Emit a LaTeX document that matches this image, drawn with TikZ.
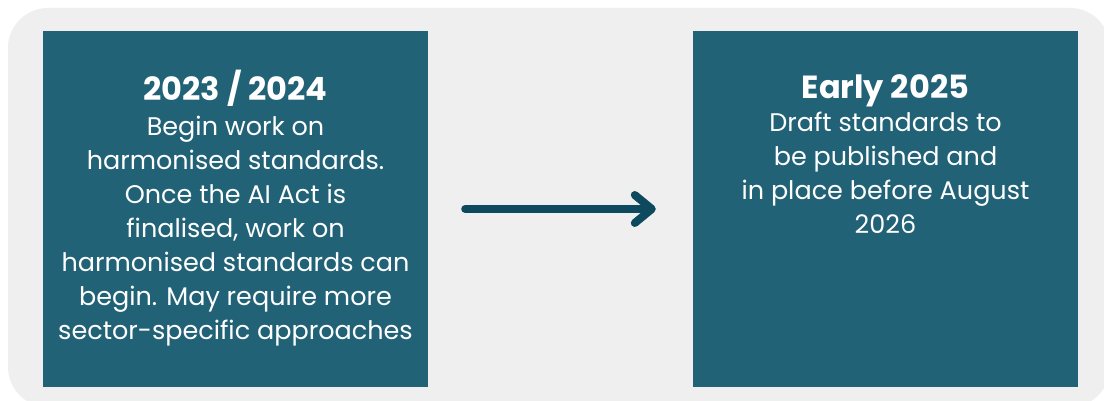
\documentclass[tikz,border=0pt]{standalone}
\usepackage{fontspec}
\setmainfont{Poppins}
\usepackage{tikz}
\usetikzlibrary{arrows.meta,positioning}
\definecolor{plannerbg}{HTML}{EFEFEF}
\definecolor{plannerbox}{HTML}{216276}
\definecolor{plannerarrow}{HTML}{0D4A5E}

\begin{document}
\begin{tikzpicture}[x=1pt, y=-1pt,
      stage/.style={fill=plannerbox, inner sep=0pt,
                    minimum width=385pt, minimum height=355pt},
      stagetxt/.style={text=white, align=center, inner sep=0pt,
                       font=\fontsize{25.5}{34}\selectfont},
      head/.style={text=white, inner sep=0pt, anchor=base,
                   font=\fontsize{32}{34}\selectfont\bfseries},
      arr/.style={-{Straight Barb[round, length=17pt, width=28pt]},
                  line width=8pt, line cap=round, color=plannerarrow,
                  shorten <=37pt, shorten >=37pt}
  ]
    \useasboundingbox (0,0) rectangle (1104,401);
    \fill[white] (0,0) rectangle (1104,401);
    \begin{scope}
      \clip (0,0) rectangle (1104,401);
      \fill[plannerbg, rounded corners=40pt] (8,8) rectangle (1110,407);
    \end{scope}
    \node[stage] (now)  at (235.5,209) {};
    \node[stage] (next) at (885.5,209) {};
    % titles on a common baseline
    \node[head] (nowhead)  at ([yshift=-69pt]now.north)  {2023 / 2024};
    \node[head] (nexthead) at ([yshift=-67pt]next.north) {Early 2025};
    \node[stagetxt, below=15.5pt of nowhead.base] (nowtxt)
      {Begin work on\\ harmonised standards.\\ Once the AI Act is\\
       finalised, work on\\ harmonised standards can\\
       begin. May require more\\ sector-specific approaches};
    \node[stagetxt, below=14pt of nexthead.base] (nexttxt)
      {Draft standards to\\ be published and\\ in place before August\\ 2026};
    \draw[arr] (now)--(next);
  \end{tikzpicture}
\end{document}
